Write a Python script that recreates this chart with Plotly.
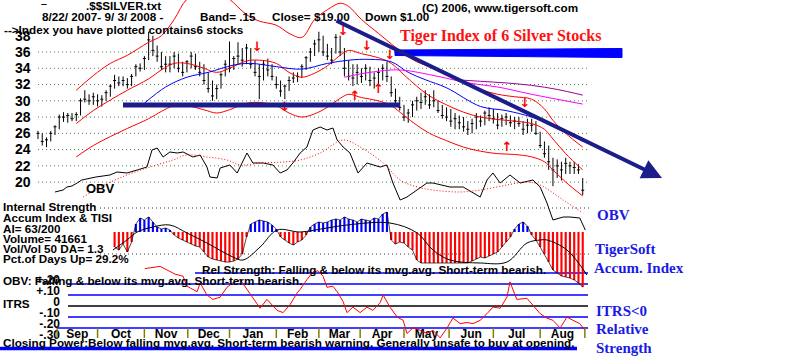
import plotly.graph_objects as go

# ---------------- data (2 trading days per bar, 8/22/2007 - 9/3/2008) ----------------
bar_high = [26.3,26,25.5,26.3,27,28.3,28.6,28.5,28.5,28.6,
            30.3,31.3,30.8,31,30.8,30.7,31.3,32,33.2,33,
            33,32.8,33.3,34.5,34.6,35.5,38.5,38,36.8,36,
            35.5,35.5,36,35.8,34.8,35,36,35.8,34.8,34.5,
            33.5,32.5,32,33.5,35,37.3,35.5,37.2,36.5,37,
            36.5,35,34.5,35,35.2,34.5,33,32.5,32,33,
            33.5,33.5,34.5,35.5,36.5,37.5,38.5,38,37,36.5,
            38.2,38,36.5,35,34.5,34.5,34,34.5,34.2,33.5,
            34,34.5,34.8,33,31.5,30.5,29.5,29,30,30.5,
            31,31.3,30.8,31.3,30,29.5,29.2,29,28.5,28.2,
            28,27.5,27.8,28.5,28.2,28.8,29.2,29,28.5,28.3,
            28.5,28.2,28,28,27.5,27.8,27.8,27.5,26.2,25,
            24.5,23,22.8,22.5,23,22.5,22.5,22.2,20.5]
bar_low = [25.3,24.5,24.3,25,25.8,26.5,27.4,27.3,27.5,27.5,
           28.2,29.8,29.5,29.5,29.3,29.3,30,30.5,31.5,31.8,
           31.8,31.5,31.8,33,33.6,33.8,35,35.5,34.8,33.8,
           33.5,33.5,34,33.5,33,33.5,34,33.8,33,32,
           31,30,30.2,31.5,33,33.5,33.8,34.5,34.2,34.5,
           34,33,30.2,32.5,33,32.5,31.5,30.5,30.2,31.2,
           32.2,32.3,32.8,33.8,34.8,35.5,36,35.5,35,34.5,
           35.8,35.5,33,32.5,31.8,32,32.2,32.5,31.8,31.5,
           32,32.5,32.3,30.5,29.5,28.8,27.5,27.3,28,28.8,
           29,29.5,29,29.2,28.5,27.8,27.5,26.8,26.5,26.5,
           26.2,25.8,26,26.5,26.8,27,27.5,27.2,26.5,26.8,
           27,26.8,26.5,26.8,25.8,26,26.2,25.8,24.2,23,
           21.5,19.5,20.5,20.2,21,21,21,21,18.4]
bar_close = [26,25,25.2,26,26.8,28,28,28.2,27.8,28.3,
             30,30.2,30,30.5,30,30.2,31,31.8,32.5,32.2,
             32.5,32,33,34.2,34,35.2,37.5,36.2,35.5,34.2,
             34.5,34.5,35.5,34,33.5,34.8,35.5,34.2,33.5,32.5,
             31.5,30.6,31.5,33.2,34.5,34,35.2,35.5,35,36.5,
             34.5,33.5,33,34.5,33.8,33,32,31.2,31.8,32.5,
             32.8,33,34.2,35.3,36,37,37.5,36,35.5,35,
             37.8,36,34,33,32.8,33.5,33,34,32.5,32.8,
             33.5,34,33,31,30,29.2,28,28.5,29.5,30,
             29.8,30.5,29.5,30,28.8,28.2,28,27.5,27.8,27.3,
             26.8,26.5,27.2,28,27.5,28.5,28.2,27.8,27,27.8,
             28,27.3,27.5,27.2,26.5,27,27,26,24.5,23.5,
             22.5,21.5,22,21.5,22.3,22,21.8,21.5,19]

band_idx = [9,13,17,21,26,29,32,35,39,42,45,49,52,56,59,62,65,68,71,73,76,80,83,86,89,92,96,100,104,108,112,116,119,121,124,128]
ma21_val = [27.2,28.8,30.1,31.3,32.7,33.8,34.6,34.6,34.0,33.5,34.0,34.9,35.0,34.6,33.5,32.9,33.4,34.3,35.6,36.2,35.8,35.3,34.6,33.2,31.8,30.6,29.5,28.6,28.0,27.7,27.5,27.2,26.5,25.3,23.5,21.5]
upper_val = [31.3,33.1,34.6,35.6,37.2,38.0,40.0,42.5,43.5,43.5,42.5,40.6,39.8,39.3,38.3,37.8,40.0,41.2,42.0,41.6,40.0,38.3,37.0,35.8,34.8,34.2,33.2,32.2,31.4,30.8,30.5,30.2,29.0,27.6,26.0,24.3]
lower_val = [23.1,24.5,25.6,26.6,27.8,28.7,29.4,29.4,28.9,28.5,28.9,29.7,29.8,29.4,28.5,28.0,28.4,29.2,30.3,30.8,30.4,30.0,29.4,28.2,27.0,26.0,25.1,24.3,23.8,23.5,23.4,23.1,22.5,21.5,20.0,18.3]

ma50_idx = [25,30,35,40,46,50,56,62,68,73,78,83,87,91,96,104,110,116,122,128]
ma50_val = [29.7,31.7,32.9,33.5,34.4,34.6,34.2,33.9,34.6,35.0,35.1,34.8,33.5,32.6,31.6,29.3,28.8,28.0,26.8,25.0]
ma200a_idx = [72,78,85,94,101,108,116,128]
ma200a_val = [32.9,33.5,33.8,33.0,32.2,31.7,30.8,29.6]
ma200b_idx = [98,104,110,116,122,128]
ma200b_val = [32.6,32.4,32.2,31.9,31.4,30.7]

sell_idx = [51.5,58,71.7,77.3,82.7,114.4]
sell_val = [36.5,29.1,38.5,36.6,35.6,29.7]
buy_idx = [74.5,80,110.2]
buy_val = [30.5,31.3,24.2]

obv_idx = [4.0,5.9,6.8,8.0,9.2,10.3,13.6,16.9,18.6,20.9,23.3,25.6,26.8,28.0,29.4,31.0,32.7,34.1,36.4,38.1,
           39.7,40.4,42.1,42.8,45.1,46.8,49.1,50.5,52.9,55.2,56.9,58.5,59.9,61.6,63.2,64.6,66.3,67.9,69.3,70.3,
           71.7,73.3,75.2,77.3,80.4,82.0,83.4,85.1,86.7,89.1,91.4,92.8,95.2,96.8,99.9,103.9,105.5,106.9,108.6,110.9,
           113.3,116.3,118.0,119.6,121.0,123.4,125.0,127.3,128.6]
obv_val = [48,50,53,54,57,60,63,65,68,67,70,73,90,92,83,88,87,88,83,85,
           73,63,62,72,75,67,87,77,77,75,67,70,77,87,93,110,113,110,112,100,
           93,87,67,77,73,75,57,40,43,50,57,57,55,53,53,43,60,67,57,65,
           57,60,53,37,20,23,23,22,10]
obvma_idx = [10.6,14.6,20.9,26.3,31.7,35.0,39.7,44.4,47.5,52.2,57.6,61.6,66.3,71.7,75.7,81.1,85.1,89.1,92.8,99.2,103.9,110.2,114.9,118.0,123.4,128.1]
obvma_val = [43,53,65,73,80,85,83,80,75,77,78,80,87,100,93,77,60,53,50,48,50,55,58,55,40,27]

ai_start = 18
ai_val = [-15,-18,-12,-20,-10,8,14,12,15,10,5,3,4,2,-3,-6,-8,-10,-12,-14,
          -15,-20,-25,-27,-28,-29,-30,-30,-29,-27,-22,-5,8,10,12,11,10,7,3,-5,
          -8,-11,-13,-10,-8,-3,5,8,10,9,10,12,13,12,15,13,12,10,13,12,
          11,14,13,18,20,-8,-12,-10,-11,-15,-18,-28,-31,-31,-31,-31,-31,-31,-31,-31,
          -31,-31,-31,-31,-29,-27,-25,-26,-24,-22,-20,-15,-10,-5,3,8,10,6,-3,-8,
          -15,-22,-30,-38,-41,-44,-45,-46,-48,-51,-55]
aima_idx = [17.6,20.9,23.3,27.0,31.0,35.0,39.7,45.8,48.2,52.2,56.2,61.6,67.9,72.6,82.7,89.1,92.8,96.8,103.9,110.2,114.9,118.0,119.6,124.3,129.0]
aima_val = [-18,-8,0,5,7,-1,-11,-25,-28,-15,2,0,4,7,9,-1,-18,-28,-31,-30,-11,-8,-8,-18,-43]

itrs_idx = [25.1,28.7,32.2,34.1,35.0,37.4,38.1,39.7,41.1,42.8,44.4,45.8,47.5,49.1,50.5,52.2,53.8,56.2,57.6,59.2,
            60.9,61.6,63.2,64.6,65.8,67.0,67.9,69.3,70.3,71.7,72.6,74.0,75.7,77.3,78.7,80.4,81.1,82.7,84.4,85.8,
            86.7,88.1,89.8,91.4,92.8,94.5,96.1,97.5,99.2,100.8,102.2,103.9,105.5,106.9,108.6,110.2,110.9,111.6,112.5,114.9,
            116.3,118.0,119.6,121.0,122.7,124.3,125.7,127.3,128.5]
itrs_val = [0.34,0.36,0.29,0.27,0.18,0.13,0.21,0.10,0.06,0.08,0.17,0.21,0.24,0.15,0.08,-0.02,0.06,-0.04,-0.06,0.01,
            0.12,0.15,0.24,0.31,0.32,0.27,0.17,0.18,0.13,0.04,-0.06,-0.01,-0.06,-0.01,-0.04,0.03,0.10,-0.01,-0.10,-0.13,
            -0.25,-0.20,-0.22,-0.25,-0.22,-0.29,-0.20,-0.11,-0.16,-0.15,-0.16,-0.13,-0.07,-0.01,-0.02,0.08,0.22,0.15,0.06,0.07,
            0.01,-0.07,-0.11,-0.13,-0.20,-0.10,-0.13,-0.16,-0.22]

price_ticks = [20,22,24,26,28,30,32,34,36,38]
price_grid = [20,22,24,26,28,30,32,34,36]
itrs_ticks = [0.2,0.1,0,-0.1,-0.2,-0.3]
itrs_ticktext = ['+.20','+.10','0','-.10','-.20','-.30']
month_names = ['Sep','Oct','Nov','Dec','Jan','Feb','Mar','Apr','May','Jun','Jul','Aug']
month_start_idx = [4.5,14,25,35.2,45,56,66,75.7,86,96.6,107,118,128.5]

# ---------------- helpers ----------------
W, H = 800, 361
def fx(p): return p / W
def fy(p): return 1 - p / H

XL, XR = 31.6, 595.5
X_RANGE = [-1.5, 131]
ITRS_RANGE = [-0.3545, 0.3727]
ITRS_LABEL_LIFT = 0.035
SANS = 'Liberation Sans, Arial, sans-serif'
SERIF = 'Liberation Serif, Times New Roman, serif'

fig = go.Figure()

def line(x, y, color, width=1.0, dash='solid', yaxis='y', shape='spline'):
    fig.add_trace(go.Scatter(x=x, y=y, mode='lines', xaxis='x', yaxis=yaxis, hoverinfo='skip',
                             line=dict(color=color, width=width, dash=dash, shape=shape)))

# price bands / moving averages
line(band_idx, upper_val, '#ff0000')
line(band_idx, ma21_val, '#ff0000')
line(band_idx, lower_val, '#ff0000')
line(ma50_idx, ma50_val, '#0000ff')
line(ma200a_idx, ma200a_val, '#ff00ff')
line(ma200b_idx, ma200b_val, '#990099')

# price bars
idx = list(range(len(bar_close)))
fig.add_trace(go.Ohlc(x=idx, open=bar_close, high=bar_high, low=bar_low, close=bar_close,
                      xaxis='x', yaxis='y', tickwidth=0.35, hoverinfo='skip',
                      increasing=dict(line=dict(color='black', width=1)),
                      decreasing=dict(line=dict(color='black', width=1))))

# signal arrows
fig.add_trace(go.Scatter(x=sell_idx, y=sell_val, mode='text', text=['<b>↓</b>'] * len(sell_idx), xaxis='x', yaxis='y',
                         textfont=dict(color='#ff0000', size=13, family='DejaVu Sans'), hoverinfo='skip'))
fig.add_trace(go.Scatter(x=buy_idx, y=buy_val, mode='text', text=['<b>↑</b>'] * len(buy_idx), xaxis='x', yaxis='y',
                         textfont=dict(color='#ff0000', size=13, family='DejaVu Sans'), hoverinfo='skip'))

# OBV
line(obv_idx, obv_val, 'black', 1, yaxis='y2', shape='linear')
line(obvma_idx, obvma_val, '#ff0000', 1, dash='1px,2px', yaxis='y2')

# Accumulation index
ai_idx = list(range(ai_start, ai_start + len(ai_val)))
fig.add_trace(go.Bar(x=ai_idx, y=ai_val, width=0.5, xaxis='x', yaxis='y3', hoverinfo='skip',
                     marker=dict(color=['#0000ff' if v > 0 else '#ff0000' for v in ai_val], line=dict(width=0))))
line(ai_idx, ai_val, 'black', 0.7, yaxis='y3', shape='linear')
line(aima_idx, aima_val, 'black', 1, yaxis='y3')

# ITRS
line(itrs_idx, itrs_val, '#ff0000', 1, yaxis='y4', shape='linear')

shapes = []
for v in price_grid:
    shapes.append(dict(type='line', xref='paper', yref='y', x0=fx(38), x1=fx(590), y0=v, y1=v,
                       line=dict(color='#4f7f4f', width=1, dash='1px,3px'), layer='below'))
for p in (208, 254):
    shapes.append(dict(type='line', xref='paper', yref='paper', x0=fx(100), x1=fx(590), y0=fy(p), y1=fy(p),
                       line=dict(color='#333333', width=1, dash='1px,3px'), layer='below'))
for v, x0, c in [(0.3, 195, '#0000ff'), (0.2, 68, '#0000ff'), (0.1, 68, '#0000ff'), (0.0, 68, 'black'),
                 (-0.1, 68, '#0000ff'), (-0.2, 57, '#0000ff')]:
    shapes.append(dict(type='line', xref='paper', yref='y4', x0=fx(x0), x1=fx(588), y0=v, y1=v,
                       line=dict(color=c, width=1.3), layer='below'))
for m in month_start_idx:
    shapes.append(dict(type='line', xref='x', yref='paper', x0=m, x1=m, y0=fy(338), y1=fy(328),
                       line=dict(color='#808000', width=1.5)))
# closing power underline
shapes.append(dict(type='line', xref='paper', yref='paper', x0=0, x1=fx(577), y0=fy(348.5), y1=fy(348.5),
                   line=dict(color='#0000ff', width=3.5)))
# navy support line
shapes.append(dict(type='line', xref='paper', yref='paper', x0=fx(123), x1=fx(400), y0=fy(105), y1=fy(105),
                   line=dict(color='#1c1c8a', width=5)))
# thick blue marker bar under title
shapes.append(dict(type='path', xref='paper', yref='paper',
                   path='M %f,%f L %f,%f L %f,%f L %f,%f Z' % (fx(395), fy(50), fx(622), fy(48.5),
                                                              fx(622), fy(57.5), fx(395), fy(55.5)),
                   fillcolor='#0000ff', line=dict(color='#0000ff', width=1)))

fig.update_layout(
    width=800, height=361, margin=dict(l=0, r=0, t=0, b=0), template='none',
    paper_bgcolor='white', plot_bgcolor='rgba(0,0,0,0)', showlegend=False, shapes=shapes,
    xaxis=dict(domain=[fx(XL), fx(XR)], range=X_RANGE, anchor='free', position=fy(325),
               showgrid=False, zeroline=False, showline=False, ticks='',
               tickmode='array',
               tickvals=[(a + b) / 2 for a, b in zip(month_start_idx[:-1], month_start_idx[1:])],
               ticktext=['<b>%s</b>' % m for m in month_names],
               tickfont=dict(family=SANS, size=12, color='black'),
               rangeslider=dict(visible=False)),
    yaxis=dict(domain=[fy(200), 1], range=[17.8, 42.4], anchor='x', showgrid=False, zeroline=False,
               showline=False, ticks='', tickmode='array', tickvals=price_ticks,
               ticktext=['<b>%d</b>' % t for t in price_ticks],
               tickfont=dict(family=SANS, size=14, color='black')),
    yaxis2=dict(domain=[fy(240), 1], range=[0, 240], anchor='x', visible=False),
    yaxis3=dict(domain=[fy(290), fy(200)], range=[-58, 32], anchor='x', visible=False),
    yaxis4=dict(domain=[fy(345), fy(265)], range=ITRS_RANGE, anchor='x', visible=False),
    # label-only axis for ITRS, lifted slightly above its lines as in the original
    yaxis5=dict(domain=[fy(345), fy(265)], range=[ITRS_RANGE[0] - ITRS_LABEL_LIFT, ITRS_RANGE[1] - ITRS_LABEL_LIFT],
                anchor='free', position=fx(60), overlaying='y4',
                showgrid=False, zeroline=False, showline=False, ticks='', tickmode='array',
                tickvals=itrs_ticks, ticktext=['<b>%s</b>' % t for t in itrs_ticktext],
                tickfont=dict(family=SANS, size=12, color='black')),
)
# invisible trace to realise the label axis
fig.add_trace(go.Scatter(x=[None], y=[None], xaxis='x', yaxis='y5', hoverinfo='skip', showlegend=False))

def txt(s, x, y, size=11.7, color='black', family=SANS, bold=True, yanchor='middle'):
    fig.add_annotation(text=('<b>%s</b>' % s) if bold else s, x=fx(x), y=fy(y), xref='paper', yref='paper',
                       xanchor='left', yanchor=yanchor, showarrow=False,
                       font=dict(size=size, color=color, family=family))

txt('‾', 39, 0, yanchor='top')
txt('.$$SILVER.txt', 84, 6)
txt('8/22/ 2007- 9/ 3/ 2008 -', 40, 17)
txt('Band= .15', 198, 17)
txt('Close= $19.00', 270, 17)
txt('Down $1.00', 363, 17)
txt('(C) 2006, www.tigersoft.com', 420, 7)
txt('--&gt;Index you have plotted contains6 stocks', 2, 29)
txt('OBV', 84, 188, size=13)
txt('Internal Strength', 1, 206)
txt('Accum Index &amp; TISI', 1, 217)
txt('AI= 63/200', 1, 228)
txt('Volume= 41661', 1, 238)
txt('Vol/Vol 50 DA= 1.3', 1, 248)
txt('Pct.of Days Up= 29.2%', 1, 258)
txt('Rel Strength: Falling &amp; below its mvg.avg. Short-term bearish.', 200, 269)
txt('OBV: Falling &amp; below its mvg.avg. Short-term bearish.', 1, 280)
txt('ITRS', 1, 303)
txt('Closing Power:Below falling mvg.avg. Short-term bearish warning. Generally unsafe to buy at opening.', 1, 342)

txt('Tiger Index of 6 Silver Stocks', 398, 36, size=16, color='#ff1010', family=SERIF)
for s, x, y in [('OBV', 595, 215), ('TigerSoft', 593, 249), ('Accum. Index', 592, 268),
                ('ITRS&lt;0', 594, 311), ('Relative', 594, 329), ('Strength', 594, 348)]:
    txt(s, x, y, size=15, color='#1a1ae6', family=SERIF)

# downtrend arrow
fig.add_annotation(x=fx(662), y=fy(178), xref='paper', yref='paper', ax=-327, ay=-158, text='',
                   showarrow=True, arrowhead=2, arrowsize=1, arrowwidth=4, arrowcolor='#1c1c8a')

fig.write_html('out.html', config={'displayModeBar': False},
               post_script="document.body.style.margin='0px';")
